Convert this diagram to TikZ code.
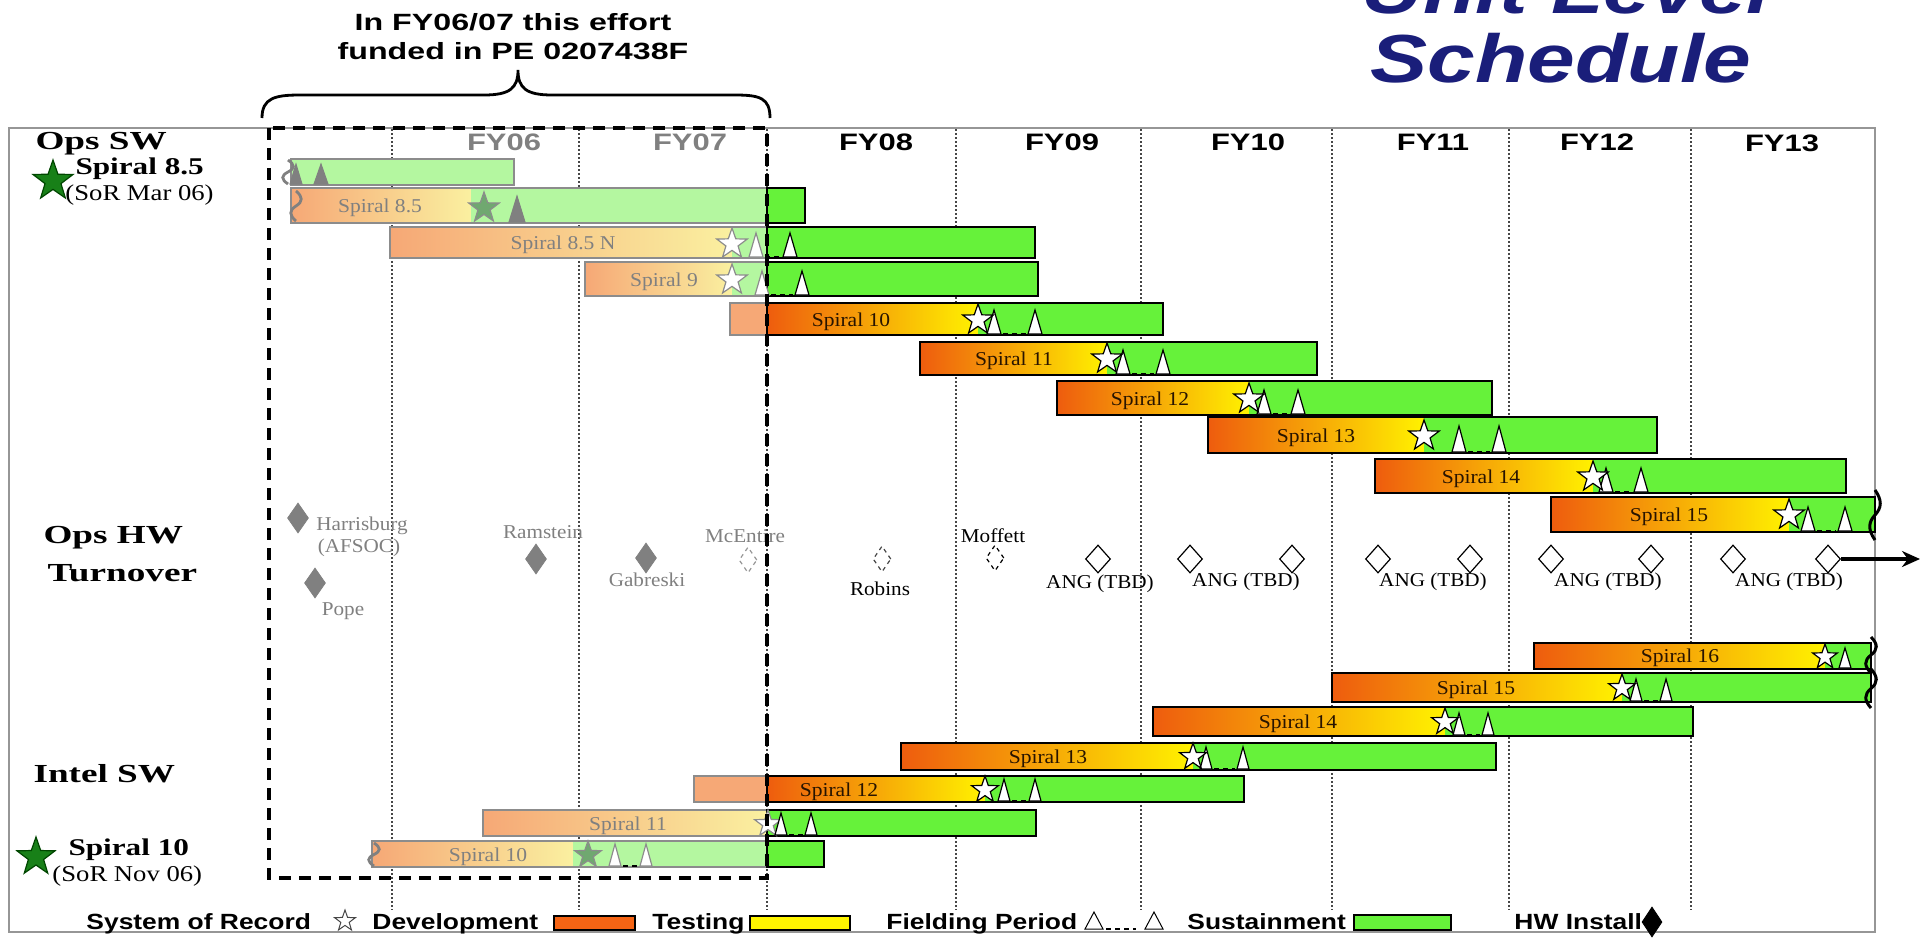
\documentclass[tikz,border=0pt]{standalone}
\usepackage{fontspec}
\setmainfont{Liberation Serif}
\newfontfamily\arialf{Liberation Sans}
\usetikzlibrary{shapes.geometric,arrows.meta}

\definecolor{navytitle}{RGB}{26,30,122}
\definecolor{framegray}{RGB}{150,150,150}
\definecolor{gridgray}{RGB}{70,70,70}
\definecolor{devorange}{RGB}{238,92,14}
\definecolor{testyellow}{RGB}{255,242,0}
\definecolor{sustgreen}{RGB}{102,242,58}
\definecolor{fadeorange}{RGB}{246,168,118}
\definecolor{fadeyellow}{RGB}{250,240,160}
\definecolor{fadegreen}{RGB}{180,247,160}
\definecolor{fadeborder}{RGB}{140,140,140}
\definecolor{fadetext}{RGB}{128,128,128}
\definecolor{sorgreen}{RGB}{24,128,24}
\definecolor{sordark}{RGB}{0,70,0}
\definecolor{fadestar}{RGB}{112,168,112}
\definecolor{hwgray}{RGB}{128,128,128}
\definecolor{labeltext}{RGB}{40,20,0}
\definecolor{legorange}{RGB}{245,100,20}
\definecolor{legyellow}{RGB}{255,245,0}

% bar pieces: x0, x1, ytop, ybottom, colour/style
\newcommand\segfill[5]{\fill[#5] (#1,#3) rectangle (#2,#4);}
\newcommand\segshade[6]{\shade[left color=#5,right color=#6] (#1,#3) rectangle (#2,#4);}
\newcommand\segbox[5]{\draw[#5] (#1,#3) rectangle (#2,#4);}
% five-point star: x, y, outer radius, style
\newcommand\sorstar[4]{\draw[#4,shift={(#1,#2)},yscale=-1] (90:#3) -- (126:{0.4*#3}) -- (162:#3) -- (198:{0.4*#3}) -- (234:#3) -- (270:{0.4*#3}) -- (306:#3) -- (342:{0.4*#3}) -- (18:#3) -- (54:{0.4*#3}) -- cycle;}
% fielding triangle: x, base y, height, half width, style
\newcommand\fieldtri[5]{\draw[#5] ({#1-#4},#2) -- (#1,{#2-#3}) -- ({#1+#4},#2) -- cycle;}
% wavy break mark: x, top, bottom, style
\newcommand\breakmark[4]{\draw[#4] (#1,#2) .. controls ({#1+7},{#2+0.2*(#3-#2)}) and ({#1+7},{#2+0.35*(#3-#2)}) .. (#1,{0.5*(#2+#3)}) .. controls ({#1-7},{#2+0.65*(#3-#2)}) and ({#1-7},{#2+0.8*(#3-#2)}) .. (#1,#3);}

\tikzset{
  framestyle/.style={draw=framegray,line width=0.75pt},
  gridline/.style={draw=gridgray,line width=0.6pt,dash pattern=on 1pt off 1pt},
  fundbox/.style={draw=black,line width=2pt,dash pattern=on 6pt off 4pt},
  brace/.style={draw=black,line width=1.4pt},
  barline/.style={draw=black,line width=0.8pt},
  fadeline/.style={draw=fadeborder,line width=0.7pt},
  titletxt/.style={font=\arialf\bfseries\itshape\fontsize{34pt}{36pt}\selectfont,text=navytitle,xscale=1.26,anchor=base,inner sep=0pt},
  notetxt/.style={font=\arialf\bfseries\fontsize{11.75pt}{14pt}\selectfont,xscale=1.37,anchor=base,inner sep=0pt},
  fytxt/.style={font=\arialf\bfseries\fontsize{11.9pt}{14pt}\selectfont,xscale=1.3,anchor=base,inner sep=0pt},
  headtxt/.style={font=\bfseries\fontsize{13pt}{15pt}\selectfont,xscale=1.43,anchor=base west,inner sep=0pt},
  subtxt/.style={font=\bfseries\fontsize{12pt}{14pt}\selectfont,xscale=1.3,anchor=base west,inner sep=0pt},
  sortxt/.style={font=\fontsize{11.3pt}{13pt}\selectfont,xscale=1.18,anchor=base west,inner sep=0pt},
  bartxt/.style={font=\fontsize{9.8pt}{11pt}\selectfont,text=labeltext,xscale=1.1,anchor=base,inner sep=0pt},
  fbartxt/.style={bartxt,text=fadetext},
  hwtxt/.style={font=\fontsize{9.8pt}{11pt}\selectfont,xscale=1.08,anchor=base,inner sep=0pt},
  legtxt/.style={font=\arialf\bfseries\fontsize{11pt}{13pt}\selectfont,xscale=1.2,anchor=base west,inner sep=0pt},
  bigstar/.style={fill=sorgreen,draw=sordark,line width=0.6pt},
  sorwhite/.style={fill=white,draw=black,line width=0.6pt},
  ghostsor/.style={fill=white,draw=fadeborder,line width=0.6pt},
  fadesor/.style={fill=fadestar,draw=fadeborder,line width=0.6pt},
  legsor/.style={fill=white,draw=gridgray,line width=0.5pt},
  opentri/.style={fill=white,draw=black,line width=0.6pt},
  ghosttri/.style={fill=white,draw=fadeborder,line width=0.6pt},
  fadetri/.style={fill=hwgray,draw=hwgray,line width=0.5pt},
  legtri/.style={draw=black,line width=0.5pt},
  gapline/.style={draw=black,line width=0.6pt,dash pattern=on 2.5pt off 2pt},
  fadesquig/.style={draw=hwgray,line width=1.4pt},
  endsquig/.style={draw=black,line width=1.5pt},
  hwsolid/.style={diamond,fill=hwgray,draw=hwgray,minimum width=10.5pt,minimum height=15pt,inner sep=0pt},
  hwopen/.style={diamond,fill=white,draw=black,line width=0.6pt,minimum width=12.5pt,minimum height=14pt,inner sep=0pt},
  hwplan/.style={diamond,draw=black,line width=0.6pt,dash pattern=on 2pt off 2pt,minimum width=9pt,minimum height=13pt,inner sep=0pt},
  hwkey/.style={diamond,fill=black,draw=black,minimum width=10pt,minimum height=15pt,inner sep=0pt},
  hwarrow/.style={draw=black,line width=2pt,-{Stealth[length=9pt,width=8pt]}},
  legbox/.style={draw=black,line width=0.6pt}
}

\begin{document}
\begin{tikzpicture}[x=0.5pt,y=-0.5pt]
\useasboundingbox (0,0) rectangle (1923,938);
\clip (0,0) rectangle (1923,938);

% ---- title ----
\node[titletxt] (unitlevel) at (1566,13) {Unit Level};
\node[titletxt] (schedule) at (1561,82) {Schedule};

% ---- funding note with brace ----
\node[notetxt] (noteA) at (513,30) {In FY06/07 this effort};
\node[notetxt] (noteB) at (513,59) {funded in PE 0207438F};
\draw[brace] (262,118) .. controls (262,98) and (275,95) .. (300,95) -- (484,95)
  .. controls (510,95) and (518,88) .. (518,70)
  .. controls (518,88) and (526,95) .. (552,95) -- (735,95)
  .. controls (760,95) and (770,98) .. (770,118);

% ---- frame and fiscal-year grid ----
\draw[framestyle] (9,128) rectangle (1875,932);
\foreach \x in {392,579,767,956,1141,1332,1509,1691}
  \draw[gridline] (\x,129) -- (\x,910);

\node[fytxt,text=fadetext] (fy06) at (504,150) {FY06};
\node[fytxt,text=fadetext] (fy07) at (690,150) {FY07};
\node[fytxt] (fy08) at (876,150) {FY08};
\node[fytxt] (fy09) at (1062,150) {FY09};
\node[fytxt] (fy10) at (1248,150) {FY10};
\node[fytxt] (fy11) at (1433,150) {FY11};
\node[fytxt] (fy12) at (1597,150) {FY12};
\node[fytxt] (fy13) at (1782,151) {FY13};

% ---- row headings ----
\node[headtxt] (opssw) at (35,149) {Ops SW};
\sorstar{53}{181}{21}{bigstar}
\node[subtxt] (ops85) at (75,174) {Spiral 8.5};
\node[sortxt] (ops85sor) at (65,200) {(SoR Mar 06)};
\node[headtxt] (opshw) at (43,543) {Ops HW};
\node[headtxt] (turnover) at (47,581) {Turnover};
\node[headtxt] (intelsw) at (33,782) {Intel SW};
\sorstar{36}{857}{20}{bigstar}
\node[subtxt] (int10) at (68,855) {Spiral 10};
\node[sortxt] (int10sor) at (52,881) {(SoR Nov 06)};

% ================= Ops SW spirals =================
% Spiral 8.5 sustainment
\segfill{291}{514}{159}{185}{fadegreen}
\segbox{291}{514}{159}{185}{fadeline}
\breakmark{288}{160}{184}{fadesquig}
\fieldtri{296}{184}{20}{6}{fadetri}
\fieldtri{321}{184}{20}{7}{fadetri}

% Spiral 8.5
\segshade{291}{471}{188}{223}{fadeorange}{fadeyellow}
\segfill{471}{767}{188}{223}{fadegreen}
\segfill{767}{805}{188}{223}{sustgreen}
\segbox{291}{767}{188}{223}{fadeline}
\segbox{767}{805}{188}{223}{barline}
\breakmark{296}{191}{221}{fadesquig}
\node[fbartxt] (ops85bar) at (380,212) {Spiral 8.5};
\fieldtri{517}{222}{26}{8}{fadetri}
\sorstar{484}{208}{16}{fadesor}

% Spiral 8.5 N
\segshade{390}{732}{227}{258}{fadeorange}{fadeyellow}
\segfill{732}{767}{227}{258}{fadegreen}
\segfill{767}{1035}{227}{258}{sustgreen}
\segbox{390}{767}{227}{258}{fadeline}
\segbox{767}{1035}{227}{258}{barline}
\node[fbartxt] (ops85nbar) at (563,249) {Spiral 8.5 N};
\fieldtri{756}{257}{24}{7}{ghosttri}
\draw[gapline] (765,257) -- (781,257);
\fieldtri{790}{257}{24}{7}{opentri}
\sorstar{732}{244}{16}{ghostsor}

% Spiral 9
\segshade{585}{732}{262}{296}{fadeorange}{fadeyellow}
\segfill{732}{767}{262}{296}{fadegreen}
\segfill{767}{1038}{262}{296}{sustgreen}
\segbox{585}{767}{262}{296}{fadeline}
\segbox{767}{1038}{262}{296}{barline}
\node[fbartxt] (ops9bar) at (664,286) {Spiral 9};
\fieldtri{762}{295}{24}{7}{ghosttri}
\draw[gapline] (771,295) -- (793,295);
\fieldtri{802}{295}{24}{7}{opentri}
\sorstar{732}{280}{16}{ghostsor}

% Spiral 10
\segfill{730}{767}{303}{335}{fadeorange}
\segshade{767}{978}{303}{335}{devorange}{testyellow}
\segfill{978}{1163}{303}{335}{sustgreen}
\segbox{730}{767}{303}{335}{fadeline}
\segbox{767}{1163}{303}{335}{barline}
\node[bartxt] (ops10bar) at (851,326) {Spiral 10};
\fieldtri{994}{334}{24}{7}{opentri}
\draw[gapline] (1003,334) -- (1026,334);
\fieldtri{1035}{334}{24}{7}{opentri}
\sorstar{978}{320}{16}{sorwhite}

% Spiral 11
\segshade{920}{1107}{342}{375}{devorange}{testyellow}
\segfill{1107}{1317}{342}{375}{sustgreen}
\segbox{920}{1317}{342}{375}{barline}
\node[bartxt] (ops11bar) at (1014,365) {Spiral 11};
\fieldtri{1123}{374}{24}{7}{opentri}
\draw[gapline] (1132,374) -- (1154,374);
\fieldtri{1163}{374}{24}{7}{opentri}
\sorstar{1107}{359}{16}{sorwhite}

% Spiral 12
\segshade{1057}{1249}{381}{415}{devorange}{testyellow}
\segfill{1249}{1492}{381}{415}{sustgreen}
\segbox{1057}{1492}{381}{415}{barline}
\node[bartxt] (ops12bar) at (1150,405) {Spiral 12};
\fieldtri{1264}{414}{24}{7}{opentri}
\draw[gapline] (1273,414) -- (1289,414);
\fieldtri{1298}{414}{24}{7}{opentri}
\sorstar{1249}{399}{16}{sorwhite}

% Spiral 13
\segshade{1208}{1424}{417}{453}{devorange}{testyellow}
\segfill{1424}{1657}{417}{453}{sustgreen}
\segbox{1208}{1657}{417}{453}{barline}
\node[bartxt] (ops13bar) at (1316,442) {Spiral 13};
\fieldtri{1459}{452}{26}{7}{opentri}
\draw[gapline] (1468,452) -- (1490,452);
\fieldtri{1499}{452}{26}{7}{opentri}
\sorstar{1424}{436}{16}{sorwhite}

% Spiral 14
\segshade{1375}{1593}{459}{493}{devorange}{testyellow}
\segfill{1593}{1846}{459}{493}{sustgreen}
\segbox{1375}{1846}{459}{493}{barline}
\node[bartxt] (ops14bar) at (1481,483) {Spiral 14};
\fieldtri{1606}{492}{24}{7}{opentri}
\draw[gapline] (1615,492) -- (1632,492);
\fieldtri{1641}{492}{24}{7}{opentri}
\sorstar{1593}{477}{16}{sorwhite}

% Spiral 15
\segshade{1551}{1789}{497}{532}{devorange}{testyellow}
\segfill{1789}{1875}{497}{532}{sustgreen}
\segbox{1551}{1875}{497}{532}{barline}
\node[bartxt] (ops15bar) at (1669,521) {Spiral 15};
\fieldtri{1808}{531}{24}{7}{opentri}
\draw[gapline] (1817,531) -- (1836,531);
\fieldtri{1845}{531}{24}{7}{opentri}
\sorstar{1789}{515}{16}{sorwhite}
\breakmark{1875}{490}{540}{endsquig}

% ================= Ops HW turnover =================
\node[hwsolid] (hwharris) at (298,518) {};
\node[hwsolid] (hwpope) at (315,583) {};
\node[hwsolid] (hwramstein) at (536,559) {};
\node[hwsolid] (hwgabreski) at (646,558) {};
\node[hwplan,draw=framegray] (hwmcentire) at (748,560) {};
\node[hwplan,draw=gridgray] (hwrobins) at (882,559) {};
\node[hwplan] (hwmoffett) at (995,558) {};
\node[hwopen] (ang1) at (1098,559) {};
\node[hwopen] (ang2) at (1190,559) {};
\node[hwopen] (ang3) at (1292,559) {};
\node[hwopen] (ang4) at (1378,559) {};
\node[hwopen] (ang5) at (1470,559) {};
\node[hwopen] (ang6) at (1551,559) {};
\node[hwopen] (ang7) at (1651,559) {};
\node[hwopen] (ang8) at (1733,559) {};
\node[hwopen] (ang9) at (1828,559) {};

\node[hwtxt,text=fadetext] (lharris) at (362,530) {Harrisburg};
\node[hwtxt,text=fadetext] (lafsoc) at (359,552) {(AFSOC)};
\node[hwtxt,text=fadetext] (lpope) at (343,615) {Pope};
\node[hwtxt,text=fadetext] (lramstein) at (543,538) {Ramstein};
\node[hwtxt,text=fadetext] (lgabreski) at (647,586) {Gabreski};
\node[hwtxt,text=fadetext] (lmcentire) at (745,542) {McEntire};
\node[hwtxt] (lrobins) at (880,595) {Robins};
\node[hwtxt] (lmoffett) at (993,542) {Moffett};
\node[hwtxt] (lang1) at (1100,588) {ANG (TBD)};
\node[hwtxt] (lang2) at (1246,586) {ANG (TBD)};
\node[hwtxt] (lang3) at (1433,586) {ANG (TBD)};
\node[hwtxt] (lang4) at (1608,586) {ANG (TBD)};
\node[hwtxt] (lang5) at (1789,586) {ANG (TBD)};

\coordinate (hwend) at (1920,559);
\draw[hwarrow] (ang9.east) -- (hwend);

% ================= Intel SW spirals =================
% Spiral 16
\segshade{1534}{1825}{643}{669}{devorange}{testyellow}
\segfill{1825}{1871}{643}{669}{sustgreen}
\segbox{1534}{1871}{643}{669}{barline}
\node[bartxt] (int16bar) at (1680,662) {Spiral 16};
\fieldtri{1845}{668}{20}{6}{opentri}
\sorstar{1825}{657}{13}{sorwhite}
\breakmark{1871}{637}{673}{endsquig}

% Spiral 15
\segshade{1332}{1622}{673}{702}{devorange}{testyellow}
\segfill{1622}{1871}{673}{702}{sustgreen}
\segbox{1332}{1871}{673}{702}{barline}
\node[bartxt] (int15bar) at (1476,694) {Spiral 15};
\fieldtri{1636}{701}{22}{6}{opentri}
\draw[gapline] (1644,701) -- (1658,701);
\fieldtri{1666}{701}{22}{6}{opentri}
\sorstar{1622}{688}{14}{sorwhite}
\breakmark{1871}{669}{708}{endsquig}

% Spiral 14
\segshade{1153}{1445}{707}{736}{devorange}{testyellow}
\segfill{1445}{1693}{707}{736}{sustgreen}
\segbox{1153}{1693}{707}{736}{barline}
\node[bartxt] (int14bar) at (1298,728) {Spiral 14};
\fieldtri{1459}{735}{22}{6}{opentri}
\draw[gapline] (1467,735) -- (1480,735);
\fieldtri{1488}{735}{22}{6}{opentri}
\sorstar{1445}{722}{14}{sorwhite}

% Spiral 13
\segshade{901}{1193}{743}{770}{devorange}{testyellow}
\segfill{1193}{1496}{743}{770}{sustgreen}
\segbox{901}{1496}{743}{770}{barline}
\node[bartxt] (int13bar) at (1048,763) {Spiral 13};
\fieldtri{1206}{769}{22}{6}{opentri}
\draw[gapline] (1214,769) -- (1235,769);
\fieldtri{1243}{769}{22}{6}{opentri}
\sorstar{1193}{757}{14}{sorwhite}

% Spiral 12
\segfill{694}{767}{776}{802}{fadeorange}
\segshade{767}{985}{776}{802}{devorange}{testyellow}
\segfill{985}{1244}{776}{802}{sustgreen}
\segbox{694}{767}{776}{802}{fadeline}
\segbox{767}{1244}{776}{802}{barline}
\node[bartxt] (int12bar) at (839,796) {Spiral 12};
\fieldtri{1004}{801}{22}{6}{opentri}
\draw[gapline] (1012,801) -- (1027,801);
\fieldtri{1035}{801}{22}{6}{opentri}
\sorstar{985}{790}{14}{sorwhite}

% Spiral 11
\segshade{483}{767}{810}{836}{fadeorange}{fadeyellow}
\segfill{767}{1036}{810}{836}{sustgreen}
\segbox{483}{767}{810}{836}{fadeline}
\segbox{767}{1036}{810}{836}{barline}
\node[fbartxt] (int11bar) at (628,830) {Spiral 11};
\sorstar{768}{824}{14}{ghostsor}
\fieldtri{781}{835}{22}{6}{opentri}
\draw[gapline] (789,835) -- (803,835);
\fieldtri{811}{835}{22}{6}{opentri}

% Spiral 10
\segshade{372}{573}{841}{867}{fadeorange}{fadeyellow}
\segfill{573}{767}{841}{867}{fadegreen}
\segfill{767}{824}{841}{867}{sustgreen}
\segbox{372}{767}{841}{867}{fadeline}
\segbox{767}{824}{841}{867}{barline}
\breakmark{374}{843}{866}{fadesquig}
\node[fbartxt] (int10bar) at (488,861) {Spiral 10};
\fieldtri{615}{866}{22}{6}{ghosttri}
\draw[gapline] (623,866) -- (638,866);
\fieldtri{646}{866}{22}{6}{ghosttri}
\sorstar{588}{855}{14}{fadesor}

% ---- FY06/07 funding box ----
\draw[fundbox] (269,128) rectangle (767,878);

% ================= legend =================
\node[legtxt] (lgsor) at (86,929) {System of Record};
\sorstar{345}{921}{11}{legsor}
\node[legtxt] (lgdev) at (372,929) {Development};
\draw[legbox,fill=legorange] (554,916) rectangle (635,930);
\node[legtxt] (lgtest) at (652,929) {Testing};
\draw[legbox,fill=legyellow] (750,916) rectangle (850,930);
\node[legtxt] (lgfield) at (886,929) {Fielding Period};
\fieldtri{1094}{929}{17}{9}{legtri}
\draw[gapline] (1106,929) -- (1136,929);
\fieldtri{1154}{929}{17}{9}{legtri}
\node[legtxt] (lgsus) at (1187,929) {Sustainment};
\draw[legbox,fill=sustgreen] (1354,915) rectangle (1451,930);
\node[legtxt] (lghw) at (1514,929) {HW Install};
\node[hwkey] (lgdiamond) at (1652,922) {};
\end{tikzpicture}
\end{document}
